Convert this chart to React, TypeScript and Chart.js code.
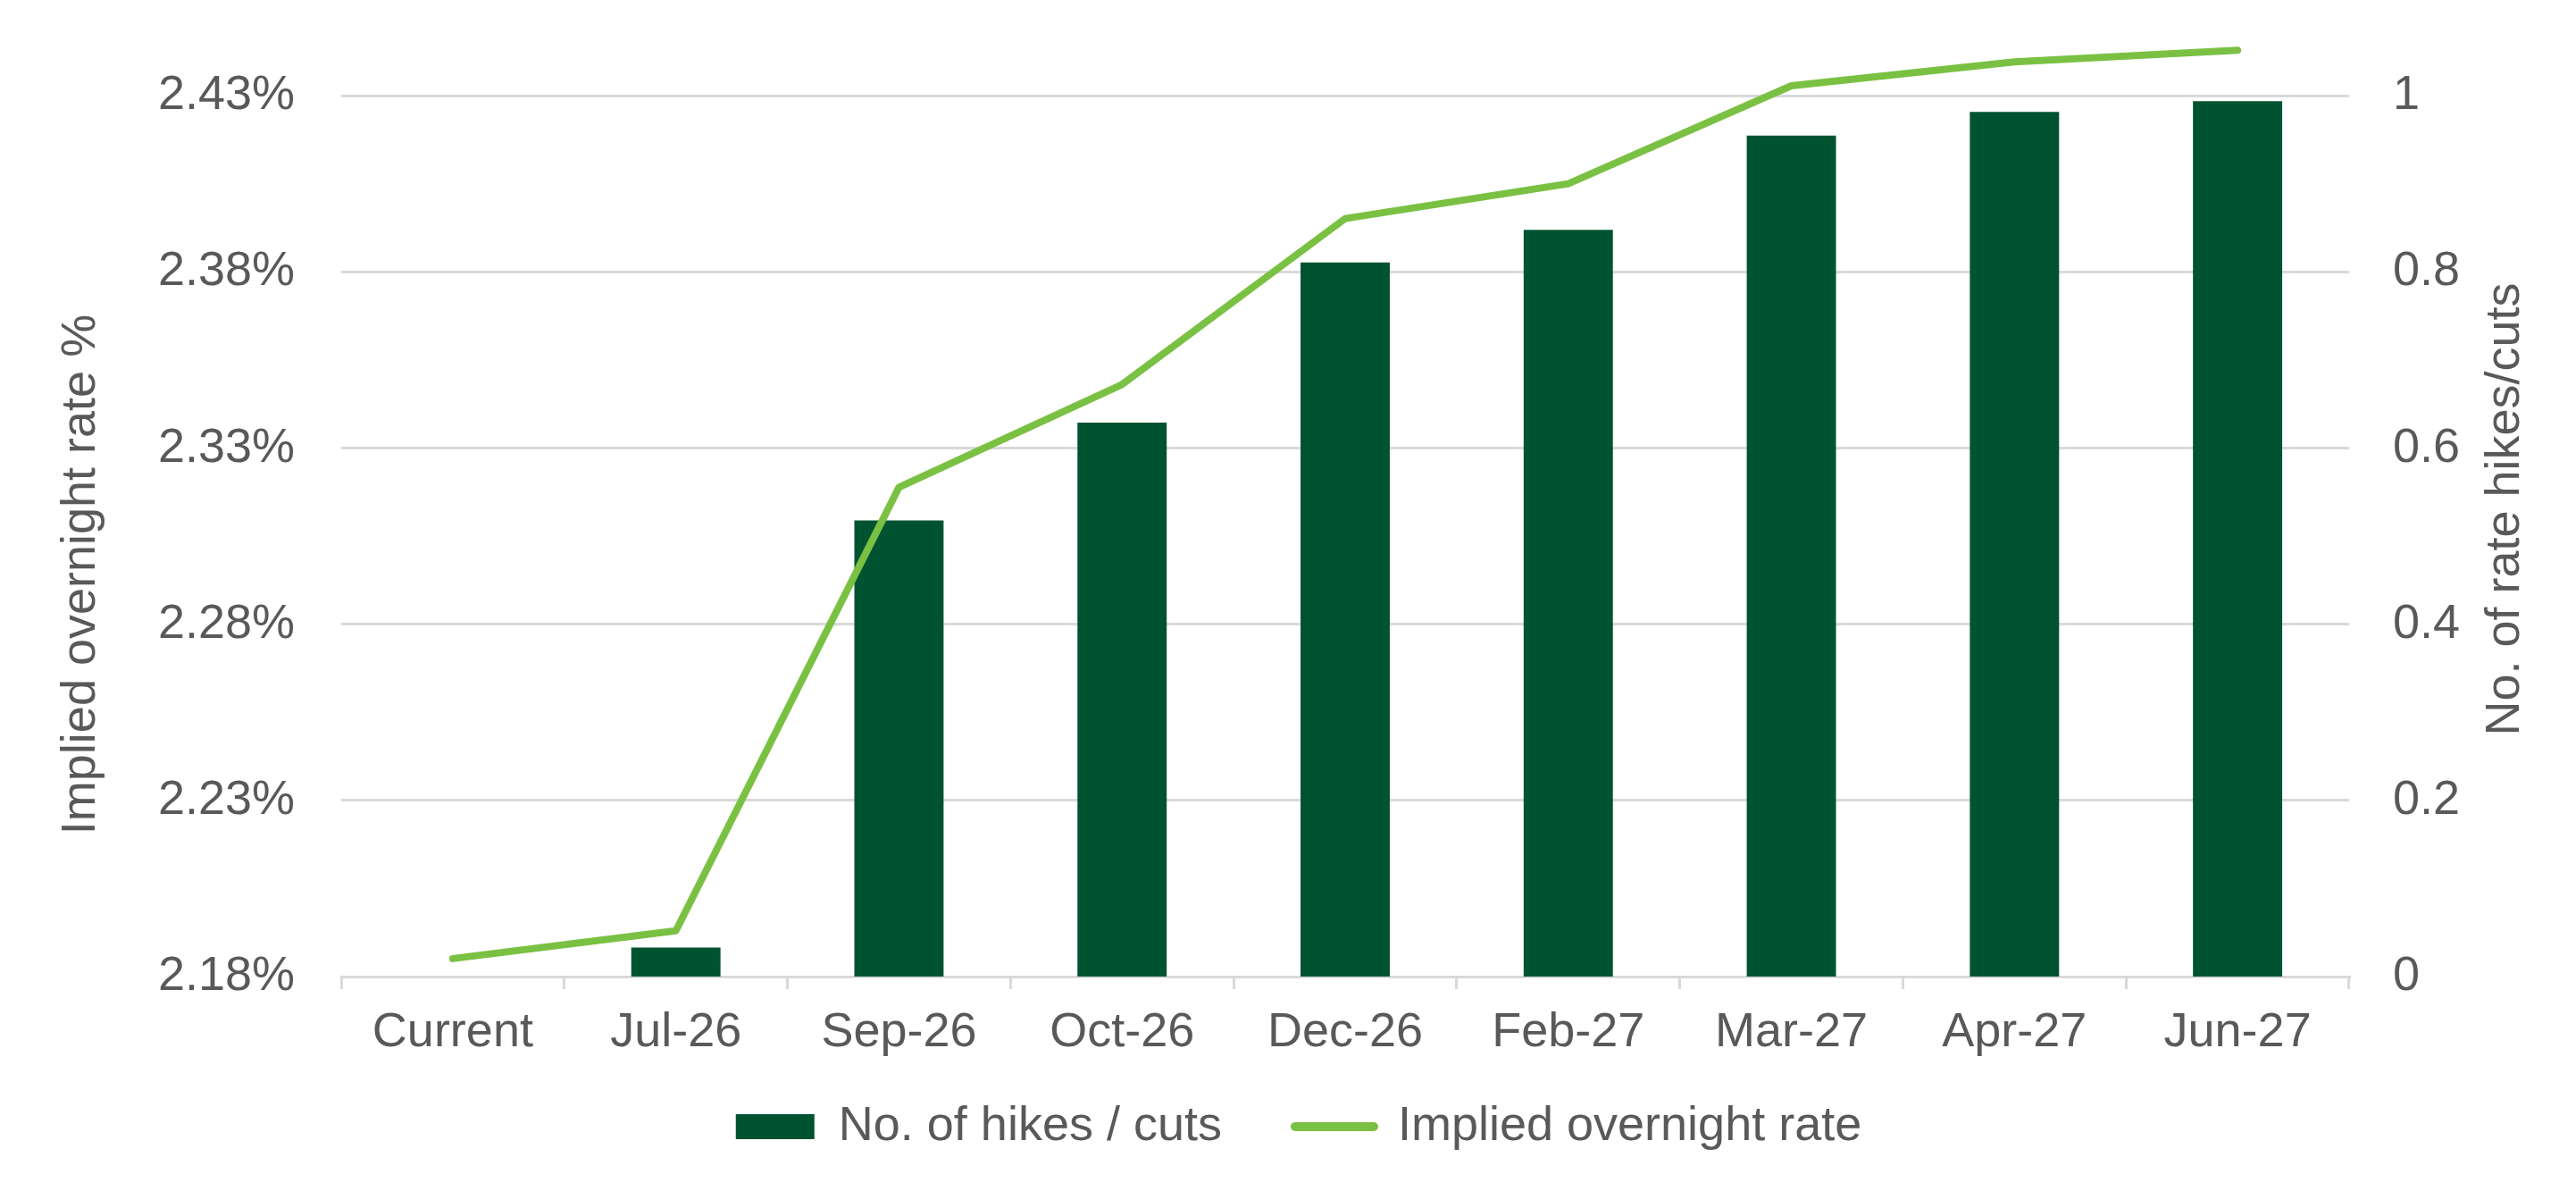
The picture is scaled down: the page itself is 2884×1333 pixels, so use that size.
import React, { useEffect, useRef } from "react";
import { Chart, registerables } from "chart.js";

Chart.register(...registerables);

const categories = ["Current", "Jul-26", "Sep-26", "Oct-26", "Dec-26", "Feb-27", "Mar-27", "Apr-27", "Jun-27"];
const hikesCuts = [0, 0.033, 0.518, 0.629, 0.811, 0.848, 0.955, 0.982, 0.994];
const impliedRate = [2.1851, 2.193, 2.3189, 2.3481, 2.3952, 2.4051, 2.4329, 2.4397, 2.443];
const leftTicks = [2.18, 2.23, 2.28, 2.33, 2.38, 2.43];
const rightTicks = [0, 0.2, 0.4, 0.6, 0.8, 1];

const LEFT_MIN = 2.18;
const LEFT_MAX = 2.4471;
const RIGHT_MAX = (LEFT_MAX - LEFT_MIN) / 0.25;

const FONT = "Liberation Sans, Arial, sans-serif";
const TEXT = "#595959";
const GRID = "#d9d9d9";
const BAR = "#005331";
const LINE = "#7AC143";

const titlesPlugin = {
  id: "axisTitles",
  afterLayout(chart: any) {
    // let the category labels draw below the (compact) x-axis box
    if (chart.scales.x) chart.scales.x.bottom = chart.height;
  },
  afterDraw(chart: any) {
    const ctx = chart.ctx;
    ctx.save();
    ctx.font = `54px ${FONT}`;
    ctx.fillStyle = TEXT;
    ctx.textAlign = "center";
    ctx.textBaseline = "alphabetic";
    ctx.translate(106, 643);
    ctx.rotate(-Math.PI / 2);
    ctx.fillText("Implied overnight rate %", 0, 0);
    ctx.restore();
    ctx.save();
    ctx.font = `54px ${FONT}`;
    ctx.fillStyle = TEXT;
    ctx.textAlign = "center";
    ctx.textBaseline = "alphabetic";
    ctx.translate(2820, 570);
    ctx.rotate(-Math.PI / 2);
    ctx.fillText("No. of rate hikes/cuts", 0, 0);
    ctx.restore();
  },
};

export default function App() {
  const ref = useRef<HTMLCanvasElement | null>(null);
  useEffect(() => {
    document.body.style.margin = "0";
    if (!ref.current) return;
    const chart = new Chart(ref.current, {
      type: "bar",
      data: {
        labels: categories,
        datasets: [
          {
            type: "bar",
            label: "No. of hikes / cuts",
            data: hikesCuts,
            backgroundColor: BAR,
            borderWidth: 0,
            yAxisID: "y1",
            barPercentage: 0.4,
            categoryPercentage: 1,
            order: 2,
          } as any,
          {
            type: "line",
            label: "Implied overnight rate",
            data: impliedRate,
            borderColor: LINE,
            backgroundColor: LINE,
            borderWidth: 8,
            borderCapStyle: "round",
            borderJoinStyle: "round",
            pointRadius: 0,
            tension: 0,
            yAxisID: "y",
            order: 1,
          } as any,
        ],
      },
      options: {
        animation: false,
        responsive: false,
        maintainAspectRatio: false,
        layout: { padding: { top: 40, bottom: 35, left: 24, right: 0 } },
        plugins: {
          tooltip: { enabled: false },
          legend: {
            position: "bottom",
            labels: {
              font: { family: FONT, size: 54 },
              color: TEXT,
              usePointStyle: true,
              boxHeight: 28,
              boxWidth: 88,
              pointStyleWidth: 88,
              padding: 82,
              sort: (a: any, b: any) => a.datasetIndex - b.datasetIndex,
              generateLabels: (chart: any) => {
                const items = (Chart.defaults.plugins.legend.labels as any).generateLabels(chart);
                return items.map((it: any) => {
                  if (it.datasetIndex === 0) {
                    return { ...it, pointStyle: "rect", lineWidth: 0, fillStyle: BAR, strokeStyle: BAR };
                  }
                  return { ...it, pointStyle: "line", lineWidth: 10, lineCap: "round", strokeStyle: LINE, fillStyle: LINE };
                });
              },
            },
          },
        },
        scales: {
          x: {
            offset: true,
            grid: {
              display: true,
              drawOnChartArea: false,
              drawTicks: true,
              tickLength: 14,
              color: GRID,
              lineWidth: 3,
              offset: true,
            },
            border: { display: true, color: GRID, width: 3 },
            ticks: { font: { family: FONT, size: 54 }, color: TEXT, padding: 17, maxRotation: 0, autoSkip: false },
            afterFit: (scale: any) => {
              scale.height = 59;
            },
          },
          y: {
            position: "left",
            min: LEFT_MIN,
            max: LEFT_MAX,
            grid: { color: GRID, lineWidth: 3, drawTicks: false },
            border: { display: false },
            ticks: {
              font: { family: FONT, size: 54 },
              color: TEXT,
              padding: 52,
              callback: (v: any) => Number(v).toFixed(2) + "%",
            },
            afterBuildTicks: (scale: any) => {
              scale.ticks = leftTicks.map((v) => ({ value: v }));
            },
            afterFit: (scale: any) => {
              scale.width = 358;
              scale.paddingTop = 0;
              scale.paddingBottom = 0;
            },
          },
          y1: {
            position: "right",
            min: 0,
            max: RIGHT_MAX,
            grid: { display: false, drawTicks: false },
            border: { display: false },
            ticks: {
              font: { family: FONT, size: 54 },
              color: TEXT,
              padding: 49,
              callback: (v: any) => String(Math.round(Number(v) * 10) / 10),
            },
            afterBuildTicks: (scale: any) => {
              scale.ticks = rightTicks.map((v) => ({ value: v }));
            },
            afterFit: (scale: any) => {
              scale.width = 254;
              scale.paddingTop = 0;
              scale.paddingBottom = 0;
            },
          },
        },
      },
      plugins: [titlesPlugin],
    });
    return () => chart.destroy();
  }, []);
  return (
    <div style={{ width: 2884, height: 1333, background: "#fff" }}>
      <canvas ref={ref} width={2884} height={1333} style={{ display: "block", width: 2884, height: 1333 }} />
    </div>
  );
}
